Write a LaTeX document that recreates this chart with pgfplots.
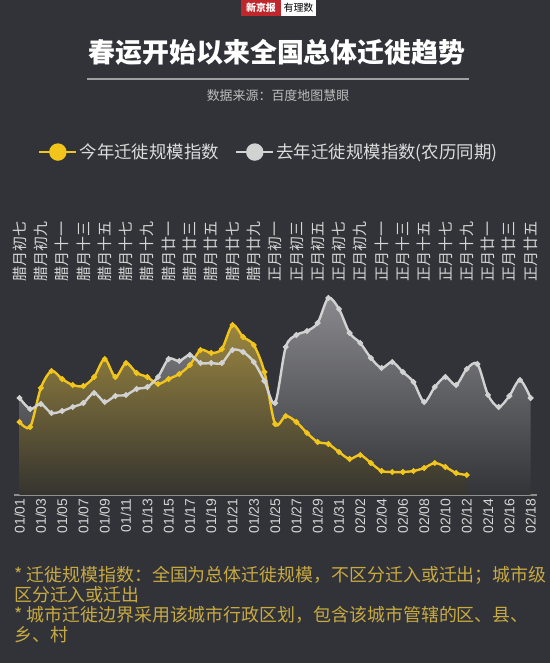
\documentclass[border=0pt]{standalone}
\usepackage{pgfplots}
\pgfplotsset{compat=1.18}
\usepackage{pgfplotstable}
\usepackage{fontspec}
\setmainfont{Liberation Sans}
\newfontfamily\cjk{Noto Sans CJK SC}
\definecolor{bg}{HTML}{323338}
\definecolor{ylw}{HTML}{F2C51D}
\definecolor{gry}{HTML}{D2D2D2}
\definecolor{foot}{HTML}{C8AA42}
\definecolor{ticklab}{HTML}{D5D5D5}
\definecolor{legtext}{HTML}{DCDCDC}
\definecolor{subgrey}{HTML}{BDBDBD}
\definecolor{rulegrey}{HTML}{A0A0A0}
\definecolor{axisgrey}{HTML}{8E8E8E}
\definecolor{logored}{HTML}{C0272D}
\definecolor{yfilltop}{HTML}{9B8740}
\definecolor{yfillbot}{HTML}{35342F}
\definecolor{gfilltop}{HTML}{8A8A8E}
\definecolor{gfillbot}{HTML}{333438}

\pgfplotstableread{
d v
0 73
1 68
2 107
3 124
4 116
5 110
6 109
7 118
8 136
9 118
10 132
11 122
12 118
13 111
14 116
15 121
16 130
17 145
18 142
19 146
20 170
21 158
22 150
23 123
24 71
25 79
26 73
27 62
28 53
29 51
30 43
31 36
32 40
33 32
34 24
35 23
36 23
37 24
38 27
39 32
40 28
41 22
42 20
}\thisyear

\pgfplotstableread{
d v
0 97
1 86
2 91
3 82
4 84
5 88
6 92
7 102
8 93
9 99
10 100
11 106
12 108
13 118
14 136
15 134
16 140
17 132
18 132
19 132
20 145
21 143
22 133
23 114
24 92
25 148
26 160
27 164
28 172
29 197
30 186
31 162
32 152
33 137
34 127
35 133
36 123
37 113
38 93
39 108
40 118
41 110
42 126
43 131
44 100
45 88
46 99
47 115
48 97
}\lastyear

\begin{document}
\begin{tikzpicture}[x=1bp,y=1bp]
\fill[bg] (0,0) rectangle (550,663);
% logo
\fill[logored] (241,647) rectangle (281,663);
\node[white, font=\cjk\bfseries\fontsize{10}{10}\selectfont, inner sep=0] at (261,655) {新京报};
\fill[white] (281,647) rectangle (316,663);
\node[black, font=\cjk\fontsize{10}{10}\selectfont, inner sep=0] at (298.5,655) {有理数};
% title
\node[white, font=\cjk\bfseries\fontsize{27}{27}\selectfont, inner sep=0] at (277,611) {春运开始以来全国总体迁徙趋势};
\draw[rulegrey, line width=1.5bp] (87,584) -- (469,584);
\node[subgrey, font=\cjk\fontsize{13}{13}\selectfont, inner sep=0] at (278,567.5) {数据来源：百度地图慧眼};

\begin{axis}[
  at={(14bp,168bp)}, anchor=south west,
  scale only axis, width=523bp, height=210bp,
  xmin=-0.52, xmax=48.6, ymin=0, ymax=210,
  axis x line=bottom, axis y line=none,
  axis line style={draw=axisgrey, line width=1.5bp, -},
  xtick={0,2,...,48}, major tick length=0,
  xticklabels={01/01,01/03,01/05,01/07,01/09,01/11,01/13,01/15,01/17,01/19,01/21,01/23,01/25,01/27,01/29,01/31,02/02,02/04,02/06,02/08,02/10,02/12,02/14,02/16,02/18},
  xticklabel style={rotate=90, anchor=east, font=\fontsize{14}{14}\selectfont, text=ticklab},
  legend style={at={(0.0459,1.633)}, anchor=west, draw=none, fill=none, text=legtext,
    font=\cjk\fontsize{17.5}{17.5}\selectfont, inner sep=0pt,
    /tikz/every even column/.append style={column sep=14bp}},
  legend columns=2, legend cell align=left,
  legend image code/.code={
    \draw[#1, mark=none, line width=2.4bp] (0bp,0bp) -- (37bp,0bp);
    \fill[#1, mark=none] (18.5bp,0bp) circle (7.5bp);
  },
]
\addplot[draw=none, top color=gfilltop, bottom color=gfillbot, smooth, forget plot] table[x=d,y=v] {\lastyear} \closedcycle;
\addplot[draw=none, top color=yfilltop, bottom color=yfillbot, smooth, forget plot] table[x=d,y=v] {\thisyear} \closedcycle;
\addplot[ylw, line width=2.4bp, smooth, mark=*, mark size=1.5bp, mark options={solid}] table[x=d,y=v] {\thisyear};
\addlegendentry{今年迁徙规模指数}
\addplot[gry, line width=2.4bp, smooth, mark=*, mark size=1.5bp, mark options={solid}] table[x=d,y=v] {\lastyear};
\addlegendentry{去年迁徙规模指数(农历同期)}
\end{axis}

\begin{axis}[
  at={(14bp,168bp)}, anchor=south west,
  scale only axis, width=523bp, height=210bp,
  xmin=-0.52, xmax=48.6, ymin=0, ymax=210,
  axis x line=top, axis y line=none,
  axis line style={draw=none},
  xtick={0,2,...,48}, major tick length=0,
  xticklabels={腊月初七,腊月初九,腊月十一,腊月十三,腊月十五,腊月十七,腊月十九,腊月廿一,腊月廿三,腊月廿五,腊月廿七,腊月廿九,正月初一,正月初三,正月初五,正月初七,正月初九,正月十一,正月十三,正月十五,正月十七,正月十九,正月廿一,正月廿三,正月廿五},
  xticklabel style={rotate=90, anchor=west, font=\cjk\fontsize{15}{15}\selectfont, text=ticklab},
]
\addplot[draw=none] coordinates {(0,0)};
\end{axis}

\node[anchor=north west, text=foot, font=\cjk\fontsize{18}{20}\selectfont, align=left, inner sep=0] at (14,97) {* 迁徙规模指数：全国为总体迁徙规模，不区分迁入或迁出；城市级\\区分迁入或迁出\\* 城市迁徙边界采用该城市行政区划，包含该城市管辖的区、县、\\乡、村};

\pgfresetboundingbox
\path[use as bounding box] (0,0) rectangle (550,663);
\end{tikzpicture}
\end{document}
